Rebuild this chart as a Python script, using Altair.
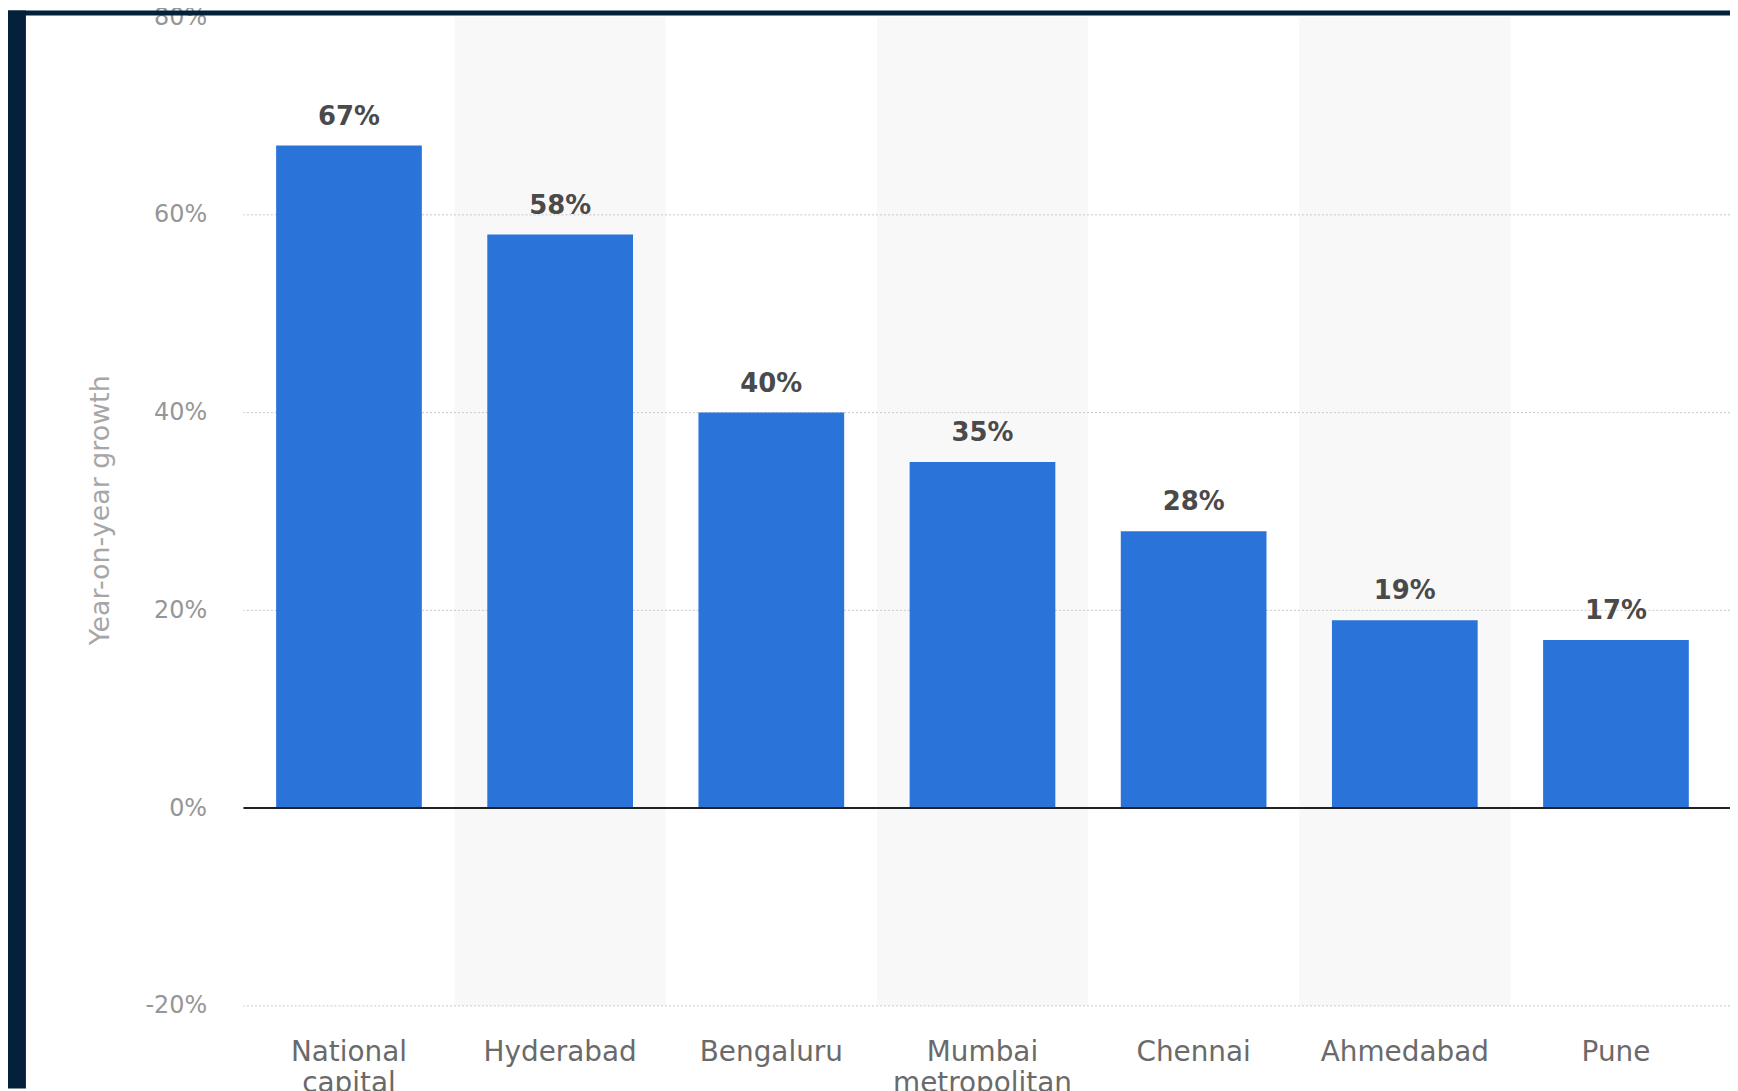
import altair as alt
import pandas as pd

categories = ["National capital region", "Hyderabad", "Bengaluru",
              "Mumbai metropolitan region", "Chennai", "Ahmedabad", "Pune"]
growth = [67, 58, 40, 35, 28, 19, 17]
shaded = ["Hyderabad", "Mumbai metropolitan region", "Ahmedabad"]
y_ticks = [-20, 0, 20, 40, 60, 80]
grid_values = [-20, 20, 40, 60]
y_title = "Year-on-year growth"

LEFT = 236.5
W, H = 1730 - LEFT, 993.4
PAD = {"left": LEFT, "top": 6.6, "right": 0, "bottom": 83}
NAVY = "#03213b"
BLUE = "#2a73d9"
FONT = "DejaVu Sans"

df = pd.DataFrame({"city": categories, "growth": growth})
band_df = pd.DataFrame({"city": shaded, "hi": [80] * len(shaded), "lo": [-20] * len(shaded)})
grid_df = pd.DataFrame({"v": grid_values})
zero_df = pd.DataFrame({"v": [0]})
one = pd.DataFrame({"k": [0]})

xscale = alt.Scale(domain=categories, paddingInner=0, paddingOuter=0.02, align=0)
yscale = alt.Scale(domain=[-20, 80], nice=False, zero=False)

x_axis = alt.Axis(title=None, labelExpr="split(datum.label, ' ')", labelFont=FONT,
                  labelFontSize=28, labelColor="#6a6a6a", labelPadding=33,
                  labelLineHeight=31, labelLimit=0, domain=False, ticks=False,
                  labelAngle=0, grid=False, zindex=0)
y_axis = alt.Axis(values=y_ticks, labelExpr="datum.value + '%'", labelFont=FONT,
                  labelFontSize=24, labelColor="#969696", labelPadding=37,
                  domain=False, ticks=False, grid=False, title=y_title,
                  titleFont=FONT, titleFontSize=27, titleFontWeight="normal",
                  titleColor="#a6a6a6", titleX=101 - 8 - LEFT, titleY=495,
                  titleAngle=270, titleBaseline="middle", titleAlign="center",
                  zindex=0)


def X():
    return alt.X("city:N", scale=xscale, axis=x_axis, title=None)


def Y(field):
    return alt.Y(field, scale=yscale, axis=y_axis, title=y_title)


bands = alt.Chart(band_df).mark_rect(color="#f8f8f8").encode(
    x=X(), y=Y("hi:Q"), y2="lo:Q")

grid = alt.Chart(grid_df).mark_rule(color="#c8c8c8", strokeWidth=1, strokeDash=[2, 2]).encode(
    y=Y("v:Q"))

bars = alt.Chart(df).mark_bar(color=BLUE, width=alt.RelativeBandSize(0.69)).encode(
    x=X(), y=Y("growth:Q"))

zero = alt.Chart(zero_df).mark_rule(color="#222222", strokeWidth=2).encode(y=Y("v:Q"))

labels = alt.Chart(df).transform_calculate(
    label="datum.growth + '%'"
).mark_text(dy=-21, baseline="alphabetic", font=FONT, fontSize=26,
            fontWeight="bold", color="#4a4a4a").encode(
    x=X(), y=Y("growth:Q"), text="label:N")

top_strip = alt.Chart(one).mark_rect(color=NAVY).encode(
    x=alt.value(-LEFT), x2=alt.value(W), y=alt.value(-6.6), y2=alt.value(-1.6))
left_strip = alt.Chart(one).mark_rect(color=NAVY).encode(
    x=alt.value(-LEFT), x2=alt.value(18 - LEFT), y=alt.value(-6.6), y2=alt.value(1076.4))

chart = alt.layer(bands, grid, bars, zero, labels, top_strip, left_strip).properties(
    width=W, height=H, padding=PAD,
    autosize=alt.AutoSizeParams(type="none"),
    background="white",
).configure_view(stroke=None)

chart.save("out.html", embed_options={"renderer": "svg", "actions": False})
